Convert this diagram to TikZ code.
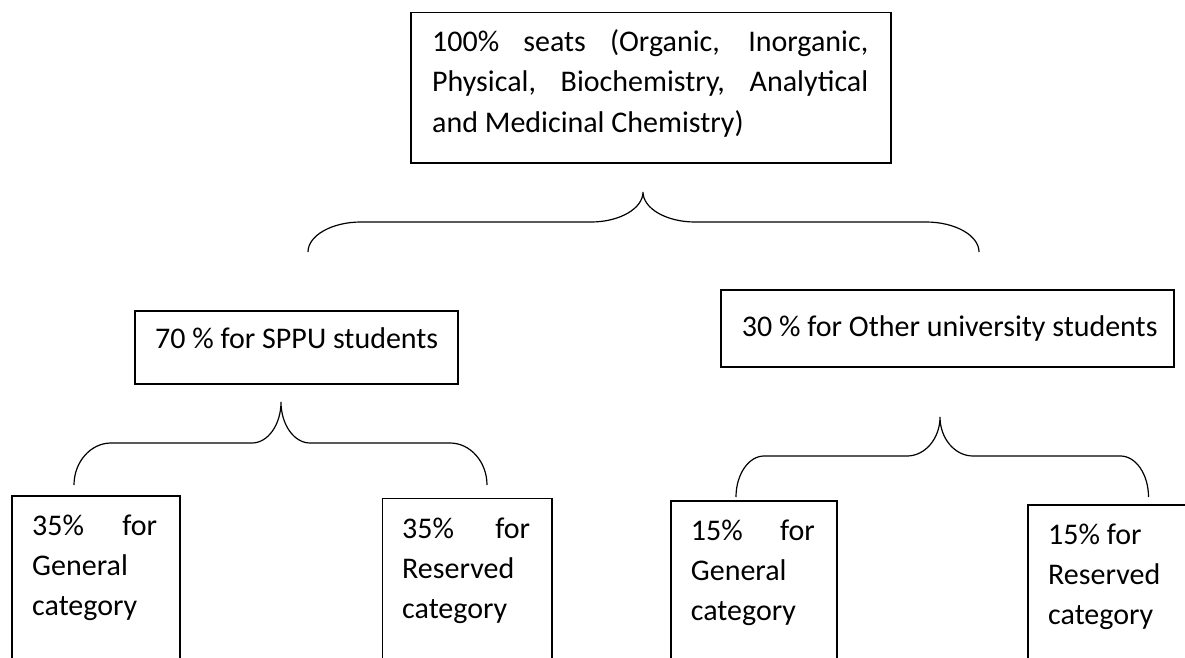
\documentclass[tikz,border=0pt]{standalone}
\usepackage{fontspec}
\setmainfont{Carlito}
\tikzset{
  box/.style={draw=black, line width=1.5pt, inner sep=0pt, anchor=north west},
  txt/.style={inner sep=0pt, anchor=base west, font=\fontsize{30pt}{40pt}\selectfont},
  bracestyle/.style={draw=black, line width=1.2pt}
}
% curly brace: x0, x1, xtip, yend, ymid, ytip, corner width at ends, corner width at tip
\newcommand{\curlybrace}[8]{%
  \draw[bracestyle] (#1,#4) .. controls +(0,{-0.55*(#4-#5)}) and +({-0.55*#7},0) .. ({#1+#7},#5)
    -- ({#3-#8},#5) .. controls +({0.55*#8},0) and +(0,{0.55*(#5-#6)}) .. (#3,#6)
    .. controls +(0,{0.55*(#5-#6)}) and +({-0.55*#8},0) .. ({#3+#8},#5)
    -- ({#2-#7},#5) .. controls +({0.55*#7},0) and +(0,{-0.55*(#4-#5)}) .. (#2,#4);}
\begin{document}
\begin{tikzpicture}[x=1pt,y=-1pt]
\useasboundingbox[fill=white] (0,0) rectangle (1185,658);

% top box
\node[box, minimum width=480pt, minimum height=150pt] (top) at (410,12) {};
\node[txt] (topA) at (432,52) {\makebox[436pt][s]{100\% seats (Organic, Inorganic,}};
\node[txt] (topB) at (432,92) {\makebox[436pt][s]{Physical, Biochemistry, Analytical}};
\node[txt] (topC) at (432,132) {and Medicinal Chemistry)};

% big brace
\coordinate (bigTip) at (643,192);
\curlybrace{308}{979}{643}{252}{222}{192}{53}{52}

% second level
\node[box, minimum width=323pt, minimum height=73pt] (sppu) at (134,310) {};
\node[txt] (sppuT) at (155,348) {70 \% for SPPU students};
\node[box, minimum width=453pt, minimum height=77pt] (other) at (720,289) {};
\node[txt] (otherT) at (741.7,336) {30 \% for Other university students};

% sub braces
\curlybrace{74}{487}{281}{485}{443}{402}{37}{29}
\curlybrace{736}{1148.5}{940}{497}{456}{417}{28}{33}

% bottom boxes (open at bottom edge)
\node[box, minimum width=168pt, minimum height=220pt] (gA) at (11,495) {};
\node[txt] (gA1) at (32,535) {\makebox[125pt][s]{35\% for}};
\node[txt] (gA2) at (32,575) {General};
\node[txt] (gA3) at (32,615) {category};

\node[box, minimum width=169.5pt, minimum height=220pt] (rA) at (381.5,497.7) {};
\node[txt] (rA1) at (402,538) {\makebox[128pt][s]{35\% for}};
\node[txt] (rA2) at (402,578) {Reserved};
\node[txt] (rA3) at (402,618) {category};

\node[box, minimum width=166pt, minimum height=220pt] (gB) at (670,500) {};
\node[txt] (gB1) at (690.7,540) {\makebox[124pt][s]{15\% for}};
\node[txt] (gB2) at (690.7,580) {General};
\node[txt] (gB3) at (690.7,620) {category};

\node[box, minimum width=220pt, minimum height=220pt] (rB) at (1027,504) {};
\node[txt] (rB1) at (1048,544) {15\% for};
\node[txt] (rB2) at (1048,584) {Reserved};
\node[txt] (rB3) at (1048,624) {category};
\end{tikzpicture}
\end{document}
